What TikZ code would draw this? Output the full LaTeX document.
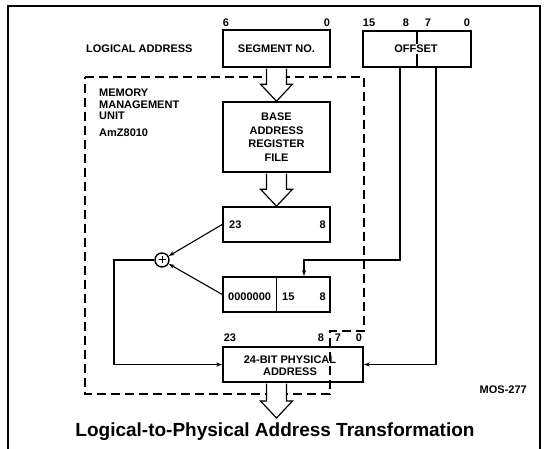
\documentclass[tikz,border=0pt]{standalone}
\usepackage{fontspec}
\setmainfont{Liberation Sans}
\usetikzlibrary{calc,arrows.meta}
\newcommand\hollowarrow[2]{%
  \draw[hollow] let \p1=(#1), \p2=(#2) in
    ({\x1-10pt},{\y1-0.8pt}) -- ({\x1-10pt},{\y2+17pt}) -- ({\x1-16pt},{\y2+17pt})
    -- (\x1,\y2) -- ({\x1+16pt},{\y2+17pt}) -- ({\x1+10pt},{\y2+17pt}) -- ({\x1+10pt},{\y1-0.8pt});
}
\begin{document}
\begin{tikzpicture}[x=1pt,y=-1pt,
  font=\fontsize{11}{13}\selectfont\bfseries,
  box/.style={draw,line width=1.6pt,inner sep=0pt,align=center},
  conn/.style={line width=1.1pt},
  tip/.style={-{Stealth[length=6pt,width=4pt]}},
  lbl/.style={inner sep=0pt},
  hollow/.style={draw,line width=1.2pt,fill=white,line join=miter},
  mmu/.style={line width=1.2pt,dash pattern=on 9pt off 5pt},
]
\useasboundingbox (0,0) rectangle (547,449);
% frame
\draw[line width=1.4pt] (8,449) -- (8,6) -- (540,6) -- (540,449);

% boxes
\node[box,minimum width=107pt,minimum height=37pt] (seg) at (276.5,48.5) {SEGMENT NO.};
\node[box,minimum width=108pt,minimum height=36pt] (off) at (417,49) {};
\draw[line width=2.2pt] (off.north) -- (off.south);
\node[lbl,fill=white,inner sep=1pt] (offtxt) at (416,49) {OFFSET};
\node[box,minimum width=107pt,minimum height=70pt,font=\fontsize{11}{13.6}\selectfont\bfseries] (base) at (276.5,137) {BASE\\ADDRESS\\REGISTER\\FILE};
\node[box,minimum width=107pt,minimum height=35pt] (reg) at (276.5,224.5) {};
\node[box,minimum width=107pt,minimum height=35pt] (low) at (276.5,294.5) {};
\draw[line width=1.3pt] (low.north) -- (low.south);
\node[box,minimum width=140pt,minimum height=35pt] (phys) at (293,364.5) {};
\node[lbl,align=center,font=\fontsize{11}{12}\selectfont\bfseries] (phystxt) at (290,366) {24-BIT PHYSICAL\\ADDRESS};
\node[draw,circle,line width=1.4pt,minimum size=14pt,inner sep=0pt] (sum) at (162,260) {};
\draw[line width=1pt] ($(sum.center)+(-3.5,0)$) -- ($(sum.center)+(3.5,0)$)
  ($(sum.center)+(0,-3.5)$) -- ($(sum.center)+(0,3.5)$);

% texts
\node[lbl,anchor=west] (la) at (86,49) {LOGICAL ADDRESS};
\node[lbl,anchor=west] (m1) at (99,93) {MEMORY};
\node[lbl,anchor=west] (m2) at (99,104.5) {MANAGEMENT};
\node[lbl,anchor=west] (m3) at (99,116) {UNIT};
\node[lbl,anchor=west] (m4) at (99,133) {AmZ8010};

\node[lbl] (s6) at (226,23) {6};
\node[lbl] (s0) at (327,23) {0};
\node[lbl] (o15) at (369,23) {15};
\node[lbl] (o8) at (406,23) {8};
\node[lbl] (o7) at (428,23) {7};
\node[lbl] (o0) at (467,23) {0};

\node[lbl,anchor=west] (r23) at (229,225) {23};
\node[lbl,anchor=east] (r8) at (326,225) {8};
\node[lbl,anchor=west] (lz) at (228,297) {0000000};
\node[lbl,anchor=west] (l15) at (282,297) {15};
\node[lbl,anchor=east] (l8) at (326,297) {8};

\node[lbl] (p23) at (230,338) {23};
\node[lbl] (p8) at (321,338) {8};
\node[lbl] (p7) at (338,338) {7};
\node[lbl] (p0) at (359,338) {0};

\node[lbl,anchor=east] (mos) at (527,390) {MOS-277};
\node[lbl,font=\fontsize{19}{22}\selectfont\bfseries] (title) at (275,432) {Logical-to-Physical Address Transformation};

% MMU dashed outline
\draw[mmu] (85,77) -- (364,77) -- (364,331) -- (330,331) -- (330,394) -- (85,394) -- cycle;

% hollow arrows
\coordinate (t3) at (278,418);
\hollowarrow{seg.south}{base.north}
\hollowarrow{base.south}{reg.north}
\hollowarrow{phys.south -| seg.south}{t3}

% connectors
\draw[conn,tip] (reg.west) -- (sum);
\draw[conn,tip] (low.west) -- (sum);
\coordinate (c1) at (114,260);
\draw[conn,tip] (sum.west) -- (c1) |- (phys.west);
\coordinate (o1) at (400,67);
\coordinate (k1) at (304,260);
\draw[conn,tip] (o1) |- (k1) -- (k1 |- low.north);
\coordinate (o2) at (436,67);
\draw[conn,tip] (o2) |- (phys.east);
\end{tikzpicture}
\end{document}
